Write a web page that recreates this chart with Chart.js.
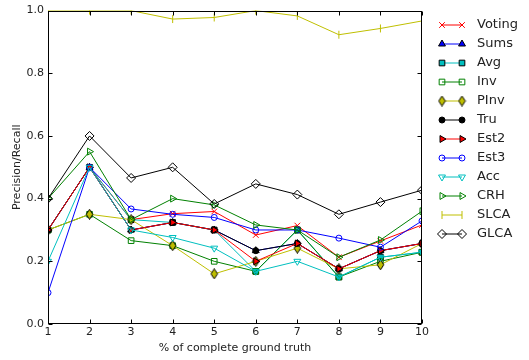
<!DOCTYPE html>
<html>
<head>
<meta charset="utf-8">
<script src="https://cdn.jsdelivr.net/npm/chart.js@4.4.0/dist/chart.umd.min.js"></script>
<style>
  html, body { margin: 0; padding: 0; background: #fff; }
</style>
</head>
<body>
<canvas id="chart" width="529" height="360"></canvas>
<script>
const xs = [1, 2, 3, 4, 5, 6, 7, 8, 9, 10];
const yTicks = [0, 0.2, 0.4, 0.6, 0.8, 1.0];

const voting = [0.3, 0.5, 0.333, 0.352, 0.359, 0.284, 0.314, 0.213, 0.265, 0.316];
const sums   = [0.3, 0.5, 0.3, 0.324, 0.3, 0.234, 0.257, 0.176, 0.234, 0.257];
const avg    = [0.3, 0.5, 0.333, 0.324, 0.3, 0.168, 0.3, 0.15, 0.213, 0.229];
const inv    = [0.3, 0.35, 0.266, 0.25, 0.2, 0.168, 0.3, 0.15, 0.2, 0.229];
const pinv   = [0.3, 0.35, 0.333, 0.25, 0.16, 0.2, 0.242, 0.176, 0.189, 0.257];
const tru    = [0.3, 0.5, 0.3, 0.324, 0.3, 0.234, 0.257, 0.176, 0.234, 0.257];
const est2   = [0.3, 0.5, 0.3, 0.324, 0.3, 0.2, 0.257, 0.176, 0.234, 0.257];
const est3   = [0.1, 0.5, 0.367, 0.35, 0.34, 0.3, 0.3, 0.274, 0.245, 0.329];
const acc    = [0.2, 0.5, 0.3, 0.276, 0.242, 0.168, 0.2, 0.15, 0.213, 0.229];
const crh    = [0.4, 0.55, 0.333, 0.4, 0.38, 0.316, 0.3, 0.213, 0.268, 0.36];
const slca   = [1.0, 1.0, 1.0, 0.973, 0.978, 1.0, 0.983, 0.923, 0.943, 0.967];
const glca   = [0.4, 0.6, 0.466, 0.5, 0.383, 0.447, 0.413, 0.35, 0.389, 0.427];

const colors = {
  red: '#ff0000', blue: '#0000ff', cyan: '#00bfbf', green: '#008000',
  yellow: '#bfbf00', black: '#000000'
};
const FONT = '"DejaVu Sans", sans-serif';
const TEXT = '#222';

// matplotlib-style thin diamond marker
function thinDiamond(fill) {
  const c = document.createElement('canvas');
  c.width = 9; c.height = 11;
  const g = c.getContext('2d');
  g.beginPath();
  g.moveTo(4.5, 0.5); g.lineTo(7.8, 5.5); g.lineTo(4.5, 10.5); g.lineTo(1.2, 5.5);
  g.closePath();
  g.fillStyle = fill; g.fill();
  g.strokeStyle = '#000'; g.lineWidth = 1; g.stroke();
  return c;
}

function series(label, values, color, style, opts = {}) {
  return {
    label,
    data: values.map((v, i) => ({ x: xs[i], y: v })),
    borderColor: color,
    borderWidth: 1,
    pointStyle: style,
    pointRadius: opts.r || 3.5,
    pointRotation: opts.rot || 0,
    pointBackgroundColor: opts.fill || 'transparent',
    pointBorderColor: opts.edge || color,
    pointBorderWidth: 1,
    pointHoverRadius: opts.r || 3.5,
    tension: 0
  };
}

const datasets = [
  series('Voting', voting, colors.red, 'crossRot', { r: 4 }),
  series('Sums', sums, colors.blue, 'triangle', { r: 4, fill: colors.blue, edge: '#000' }),
  series('Avg', avg, colors.cyan, 'rect', { r: 4, fill: colors.cyan, edge: '#000' }),
  series('Inv', inv, colors.green, 'rect', { r: 4 }),
  series('PInv', pinv, colors.yellow, thinDiamond(colors.yellow)),
  series('Tru', tru, colors.black, 'circle', { r: 3, fill: '#000', edge: '#000' }),
  series('Est2', est2, colors.red, 'triangle', { r: 4, rot: 90, fill: colors.red, edge: '#000' }),
  series('Est3', est3, colors.blue, 'circle', { r: 3 }),
  series('Acc', acc, colors.cyan, 'triangle', { r: 4, rot: 180 }),
  series('CRH', crh, colors.green, 'triangle', { r: 4, rot: 90 }),
  series('SLCA', slca, colors.yellow, 'line', { r: 4, rot: 90 }),
  series('GLCA', glca, colors.black, 'rectRot', { r: 4.5 })
];
// later series on top, like matplotlib
datasets.forEach((d, i) => { d.order = datasets.length - i; });

const frame = {
  id: 'frame',
  afterDatasetsDraw(chart) {
    const { ctx, chartArea: a, scales: { x, y } } = chart;
    const L = Math.round(a.left) + 0.5, R = Math.round(a.right) - 0.5;
    const T = Math.round(a.top) + 0.5, B = Math.round(a.bottom) - 0.5;
    ctx.save();
    ctx.strokeStyle = '#000';
    ctx.lineWidth = 1;
    ctx.strokeRect(L, T, R - L, B - T);
    ctx.beginPath();
    x.ticks.forEach(t => {
      const px = Math.round(x.getPixelForValue(t.value)) + 0.5;
      ctx.moveTo(px, B); ctx.lineTo(px, B - 4);
      ctx.moveTo(px, T); ctx.lineTo(px, T + 4);
    });
    y.ticks.forEach(t => {
      const py = Math.round(y.getPixelForValue(t.value)) + 0.5;
      ctx.moveTo(L, py); ctx.lineTo(L + 4, py);
      ctx.moveTo(R, py); ctx.lineTo(R - 4, py);
    });
    ctx.stroke();
    ctx.restore();
  }
};

const sideLegend = {
  id: 'sideLegend',
  afterDraw(chart) {
    const ctx = chart.ctx;
    ctx.save();
    chart.data.datasets.forEach((ds, i) => {
      const y = 25 + i * 19;
      ctx.strokeStyle = ds.borderColor;
      ctx.lineWidth = 1;
      ctx.beginPath();
      ctx.moveTo(442, y); ctx.lineTo(462, y);
      ctx.stroke();
      [442, 462].forEach(px => {
        ctx.fillStyle = ds.pointBackgroundColor;
        ctx.strokeStyle = ds.pointBorderColor;
        ctx.lineWidth = 1;
        Chart.helpers.drawPoint(ctx, {
          pointStyle: ds.pointStyle, radius: ds.pointRadius,
          rotation: ds.pointRotation, borderWidth: 1
        }, px, y);
      });
      ctx.fillStyle = TEXT;
      ctx.font = '13px ' + FONT;
      ctx.textBaseline = 'middle';
      ctx.textAlign = 'left';
      ctx.fillText(ds.label, 477, y);
    });
    ctx.restore();
  }
};

new Chart(document.getElementById('chart'), {
  type: 'line',
  data: { datasets },
  plugins: [frame, sideLegend],
  options: {
    responsive: false,
    animation: false,
    layout: { padding: { left: 0, top: 8, right: 107, bottom: 0 } },
    plugins: { legend: { display: false }, tooltip: { enabled: false } },
    scales: {
      x: {
        type: 'linear', min: 1, max: 10,
        afterFit: s => { s.height = 36; },
        afterBuildTicks: s => { s.ticks = xs.map(v => ({ value: v })); },
        ticks: { color: TEXT, font: { family: FONT, size: 11 }, padding: 2, maxRotation: 0 },
        grid: { display: false, drawTicks: false },
        border: { display: false },
        title: { display: true, text: '% of complete ground truth', color: TEXT,
                 font: { family: FONT, size: 11 }, padding: { top: 0, bottom: 5 } }
      },
      y: {
        min: 0, max: 1,
        afterFit: s => { s.width = 48; },
        afterBuildTicks: s => { s.ticks = yTicks.map(v => ({ value: v })); },
        ticks: { color: TEXT, font: { family: FONT, size: 11 }, padding: 4,
                 callback: v => v.toFixed(1) },
        grid: { display: false, drawTicks: false },
        border: { display: false },
        title: { display: true, text: 'Precision/Recall', color: TEXT,
                 font: { family: FONT, size: 11 }, padding: { top: 11, bottom: 0 } }
      }
    }
  }
});
</script>
</body>
</html>
